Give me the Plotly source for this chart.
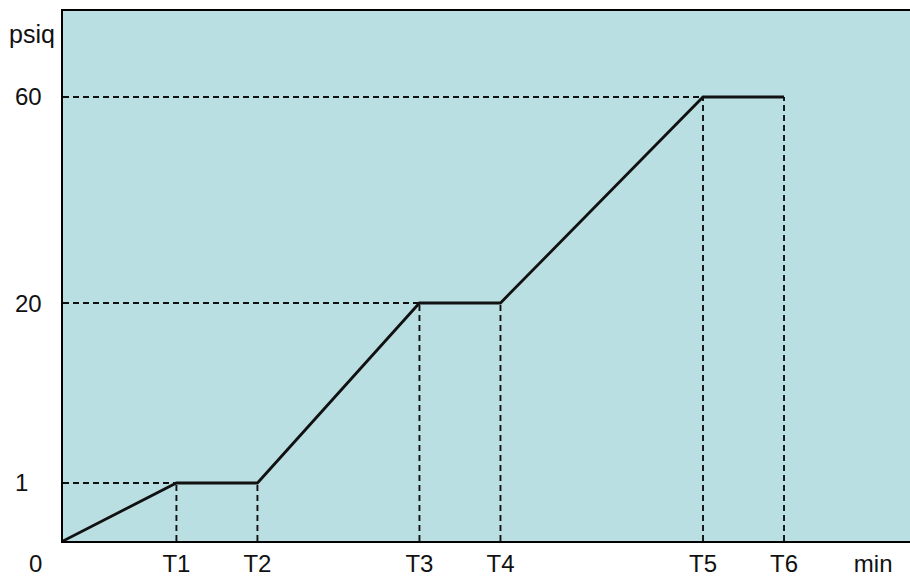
import plotly.graph_objects as go

# --- data (schematic pressure profile) ---
time_labels = ["T1", "T2", "T3", "T4", "T5", "T6"]
time_values = [2.8, 4.8, 8.8, 10.8, 15.8, 17.8]          # schematic time axis (min)
pressure_labels = ["0", "1", "20", "60"]
pressure_values = [0, 1, 20, 60]                            # psig
pressure_axis = [0.0, 0.784, 3.216, 6.0]                    # schematic (non-linear) axis level for each pressure
profile_time = [0.0] + time_values                          # start, T1..T6
profile_pressure = [0, 1, 1, 20, 20, 60, 60]

level_of = dict(zip(pressure_values, pressure_axis))
profile_level = [level_of[p] for p in profile_pressure]

BG = "#BADFE3"
INK = "#111111"
FONT = "Liberation Sans, Arial, sans-serif"

fig = go.Figure()

# dashed guide lines (horizontal to y-axis, vertical to x-axis)
dash = "6px,4px"
for t, lv in zip(profile_time[1:], profile_level[1:]):
    fig.add_trace(go.Scatter(x=[t, t], y=[0, lv], mode="lines",
                             line=dict(color=INK, width=1.9, dash=dash),
                             hoverinfo="skip", showlegend=False))
for t, lv in [(time_values[0], level_of[1]), (time_values[2], level_of[20]), (time_values[4], level_of[60])]:
    fig.add_trace(go.Scatter(x=[0, t], y=[lv, lv], mode="lines",
                             line=dict(color=INK, width=1.9, dash=dash),
                             hoverinfo="skip", showlegend=False))

# main profile
fig.add_trace(go.Scatter(x=profile_time, y=profile_level, mode="lines",
                         line=dict(color=INK, width=2.8),
                         showlegend=False))

# y labels (left aligned, as in the reference)
for lab, p in zip(pressure_labels[1:], pressure_values[1:]):
    fig.add_annotation(x=-0.0595, xref="paper", y=level_of[p], yref="y",
                       text=lab, showarrow=False, xanchor="left", yanchor="middle",
                       font=dict(family=FONT, size=24, color=INK))
fig.add_annotation(x=-0.066, xref="paper", y=6.85, yref="y", text="psiq",
                   showarrow=False, xanchor="left", yanchor="middle",
                   font=dict(family=FONT, size=25, color=INK))
# origin label "0" sits below the axis corner
fig.add_annotation(x=-0.033, xref="paper", y=-0.042, yref="paper", text=pressure_labels[0],
                   showarrow=False, xanchor="center", yanchor="middle",
                   font=dict(family=FONT, size=24, color=INK))

fig.update_layout(
    width=910, height=580,
    margin=dict(l=63, r=0, t=11, b=39),
    paper_bgcolor="white", plot_bgcolor=BG,
    xaxis=dict(range=[0, 20.91], showgrid=False, zeroline=False,
               showline=True, linecolor="black", linewidth=2, mirror=True,
               tickvals=time_values + [20.0], ticktext=time_labels + ["min"],
               ticks="", tickfont=dict(family=FONT, size=24, color=INK),
               ticklabelstandoff=0),
    yaxis=dict(range=[0, 7.162], showgrid=False, zeroline=False,
               showline=True, linecolor="black", linewidth=2,
               showticklabels=False, ticks=""),
)

fig.write_html(
    "out.html",
    config={"displayModeBar": False},
    post_script="document.body.style.margin='0';document.body.style.overflow='hidden';",
)
